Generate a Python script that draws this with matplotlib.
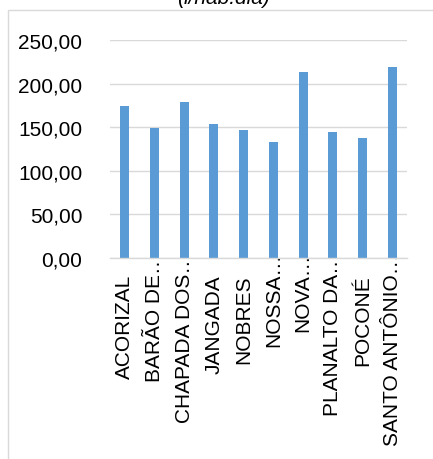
import matplotlib.pyplot as plt
import matplotlib.patches as patches
import matplotlib.transforms as mtransforms
import numpy as np

plt.rcParams['font.family'] = ['Liberation Sans', 'DejaVu Sans']

cidades = ['ACORIZAL', 'BARÃO DE…', 'CHAPADA DOS…', 'JANGADA', 'NOBRES',
           'NOSSA…', 'NOVA…', 'PLANALTO DA…', 'POCONÉ', 'SANTO ANTÔNIO…']
consumo = [174.0, 149.0, 178.5, 153.5, 146.5, 133.0, 213.0, 144.5, 137.5, 219.5]
yticks = [0, 50, 100, 150, 200, 250]

W, H = 433, 460
fig = plt.figure(figsize=(W / 100, H / 100), dpi=100)

# chart border (cut off on the right and bottom)
fig.patches.append(patches.Rectangle((8 / W, -0.1), 1.2, 1.1 - 11 / H,
                                     transform=fig.transFigure, fill=False,
                                     edgecolor='#D9D9D9', linewidth=1.0))

fig.text(223 / W, 1 - 4 / H, '(l/hab.dia)', ha='center', va='baseline',
         fontsize=15, style='italic', color='#000000')

ax = fig.add_axes([110 / W, 1 - 259 / H, 297 / W, 218 / H])
x = np.arange(len(cidades))
ax.bar(x, consumo, width=0.3, color='#5B9BD5', zorder=3)

ax.set_xlim(-0.5, len(cidades) - 0.5)
ax.set_ylim(0, 250)
ax.set_yticks(yticks)
ax.set_yticklabels([('%.2f' % v).replace('.', ',') for v in yticks])
ax.set_xticks(x)
ax.set_xticklabels(cidades, rotation=90, ha='center', va='top')

ax.tick_params(axis='both', length=0, labelsize=15, colors='#000000')
ax.tick_params(axis='y', pad=20)
ax.tick_params(axis='x', pad=11.5)

# the "…" hangs above the other labels, like in Excel
for lab in ax.get_xticklabels():
    if lab.get_text().endswith('…'):
        off = mtransforms.ScaledTranslation(0, 22 / 100, fig.dpi_scale_trans)
        lab.set_transform(lab.get_transform() + off)

ax.grid(axis='y', color='#D9D9D9', linewidth=1.0, zorder=0)
for s in ['top', 'right', 'left']:
    ax.spines[s].set_visible(False)
ax.spines['bottom'].set_color('#D9D9D9')
ax.spines['bottom'].set_linewidth(1.0)
ax.spines['bottom'].set_zorder(4)

fig.savefig('out.png', dpi=100)
